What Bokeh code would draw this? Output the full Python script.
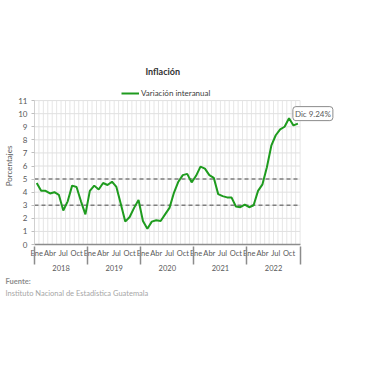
from bokeh.plotting import figure
from bokeh.models import (Range1d, FixedTicker, LinearAxis, Label, Legend, Title,
                          ColumnDataSource)
from bokeh.embed import file_html
from bokeh.resources import INLINE

years = ["2018", "2019", "2020", "2021", "2022"]
months = ["Ene", "Feb", "Mar", "Abr", "May", "Jun", "Jul", "Ago", "Sep", "Oct", "Nov", "Dic"]
shown_months = ["Ene", "Abr", "Jul", "Oct"]

v2018 = [4.7, 4.1, 4.1, 3.9, 4.0, 3.8, 2.6, 3.3, 4.5, 4.4, 3.3, 2.3]
v2019 = [4.1, 4.5, 4.2, 4.7, 4.55, 4.8, 4.4, 3.1, 1.75, 2.1, 2.8, 3.4]
v2020 = [1.8, 1.2, 1.75, 1.85, 1.8, 2.3, 2.8, 3.95, 4.8, 5.3, 5.4, 4.75]
v2021 = [5.25, 5.95, 5.8, 5.3, 5.1, 3.85, 3.7, 3.6, 3.6, 2.9, 2.85, 3.05]
v2022 = [2.85, 3.0, 4.1, 4.6, 5.9, 7.55, 8.35, 8.8, 9.0, 9.65, 9.1, 9.24]

y_ticks = list(range(0, 12))
ref_levels = [3, 5]
last_label = "Dic 9.24%"
source_title = "Fuente:"
source_text = "Instituto Nacional de Estadística Guatemala"

values = v2018 + v2019 + v2020 + v2021 + v2022
n = len(values)
xs = [i + 0.5 for i in range(n)]
y_max = y_ticks[-1]

FONT = "Lato"
GREEN = "#1e9b1e"

p = figure(width=340, height=300, output_backend="svg", toolbar_location=None,
           x_range=Range1d(0, 68), y_range=Range1d(0, 12),
           min_border_left=34, min_border_right=5, min_border_top=87, min_border_bottom=56,
           x_axis_type=None)
p.outline_line_color = None
p.background_fill_color = "white"
p.border_fill_color = "white"
p.xgrid.visible = False
p.ygrid.visible = False

p.title.text = "Inflación"
p.title.align = "left"
p.title.offset = 111
p.title.text_font = FONT
p.title.text_font_size = "9px"
p.title.text_font_style = "bold"
p.title.text_color = "#333333"
p.title.standoff = 21

# y axis
p.yaxis.ticker = FixedTicker(ticks=y_ticks)
p.yaxis.bounds = (0, y_max)
p.yaxis.axis_label = "Porcentajes"
p.yaxis.axis_label_text_font = FONT
p.yaxis.axis_label_text_font_size = "8px"
p.yaxis.axis_label_text_font_style = "normal"
p.yaxis.axis_label_text_color = "#595959"
p.yaxis.axis_label_standoff = 1
p.yaxis.major_label_text_font = FONT
p.yaxis.major_label_text_font_size = "8px"
p.yaxis.major_label_text_color = "#595959"
p.yaxis.major_label_standoff = 4
p.yaxis.major_tick_out = 3
p.yaxis.major_tick_in = 0
p.yaxis.minor_tick_line_color = None
p.yaxis.major_tick_line_color = "#bfbfbf"
p.yaxis.axis_line_color = "#d0d0d0"

# grid lines drawn as segments limited to the data area
gx = list(range(0, n + 1))
p.segment(x0=gx, y0=[0] * len(gx), x1=gx, y1=[y_max] * len(gx),
          line_color="#e6e6e6", line_width=1)
gy = y_ticks[1:]
p.segment(x0=[0] * len(gy), y0=gy, x1=[n] * len(gy), y1=gy,
          line_color="#e0e0e0", line_width=1)

# month axis
month_ticks = [i + 0.5 for i in range(n) if months[i % 12] in shown_months]
month_over = {t: months[int(t) % 12] for t in month_ticks}
year_bounds = [12 * k for k in range(len(years) + 1)]
max_ax = LinearAxis(ticker=FixedTicker(ticks=month_ticks),
                    major_label_overrides=month_over, bounds=(0, n))
max_ax.major_tick_line_color = None
max_ax.minor_tick_line_color = None
max_ax.major_tick_out = 0
max_ax.major_tick_in = 0
max_ax.minor_tick_out = 0
max_ax.minor_tick_in = 0
max_ax.axis_line_color = "#8c8c8c"
max_ax.axis_line_width = 1.5
max_ax.major_label_text_font = FONT
max_ax.major_label_text_font_size = "7.5px"
max_ax.major_label_text_color = "#595959"
max_ax.major_label_standoff = 4
p.add_layout(max_ax, "below")

year_ticks = [12 * k + 6 for k in range(len(years))]
year_ax = LinearAxis(ticker=FixedTicker(ticks=year_ticks, minor_ticks=year_bounds),
                     major_label_overrides={t: years[k] for k, t in enumerate(year_ticks)},
                     bounds=(0, n))
year_ax.axis_line_color = None
year_ax.major_tick_line_color = None
year_ax.major_tick_out = 0
year_ax.major_tick_in = 0
year_ax.minor_tick_in = 14
year_ax.minor_tick_out = 4
year_ax.minor_tick_line_color = "#8c8c8c"
year_ax.minor_tick_line_width = 1.5
year_ax.major_label_text_font = FONT
year_ax.major_label_text_font_size = "7.5px"
year_ax.major_label_text_color = "#595959"
year_ax.major_label_standoff = 0
p.add_layout(year_ax, "below")

# reference lines
p.segment(x0=[0] * len(ref_levels), y0=ref_levels, x1=[n] * len(ref_levels), y1=ref_levels,
          line_color="#7f7f7f", line_width=1.5, line_dash="4 3")

src = ColumnDataSource(dict(x=xs, y=values))
r = p.line("x", "y", source=src, line_color=GREEN, line_width=2)

legend = Legend(items=[("Variación interanual", [r])], location=(87, 146),
                orientation="horizontal", border_line_color=None,
                background_fill_alpha=0, padding=0, margin=0, spacing=0,
                label_text_font=FONT, label_text_font_size="8px",
                label_text_color="#404040", glyph_width=18, glyph_height=8,
                label_height=8, label_standoff=2)
p.add_layout(legend)

p.add_layout(Label(x=xs[-1], y=values[-1], text=last_label, x_offset=-5, y_offset=3,
                   text_baseline="bottom", text_font=FONT, text_font_size="8px",
                   text_color="#595959", border_line_color="#8c8c8c",
                   background_fill_color="white", border_radius=3, padding=2))

p.add_layout(Title(text=source_title, align="left", offset=-29, text_font=FONT,
                   text_font_size="7.5px", text_font_style="bold",
                   text_color="#8c8c8c", standoff=2), "below")
p.add_layout(Title(text=source_text, align="left", offset=-29, text_font=FONT,
                   text_font_size="7.5px", text_font_style="normal",
                   text_color="#a6a6a6", standoff=0), "below")

open("out.html", "w").write(file_html(p, INLINE))
